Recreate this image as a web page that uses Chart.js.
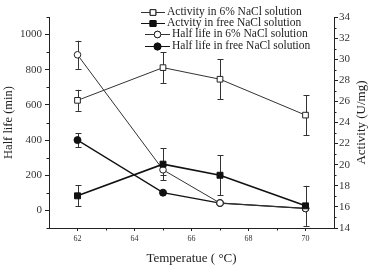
<!DOCTYPE html>
<html>
<head>
<meta charset="utf-8">
<script src="https://cdn.jsdelivr.net/npm/chart.js@4.4.1/dist/chart.umd.min.js"></script>
<style>
html,body{margin:0;padding:0;background:#fff;}
#wrap{width:376px;height:274px;}
</style>
</head>
<body>
<div id="wrap"><canvas id="c" width="376" height="274"></canvas></div>
<script>
const temps = [62, 65, 67, 70];
const activity6 = [26.1, 29.2, 28.1, 24.7];
const activity6Err = [1.0, 1.45, 1.9, 1.9];
const activityFree = [17.05, 20.05, 19.0, 16.1];
const activityFreeErr = [1.0, 1.5, 1.9, 1.9];
const halfLife6 = [885, 231, 42, 11];
const halfLife6Err = [80, 30, 0, 0];
const halfLifeFree = [400, 101, 42, 12];
const halfLifeFreeErr = [40, 0, 0, 0];

const xTickLabels = [62, 64, 66, 68, 70];
const xMinorTicks = [63, 65, 67, 69];
const leftTickLabels = [0, 200, 400, 600, 800, 1000];
const leftMinorTicks = [-100, 100, 300, 500, 700, 900, 1100];
const rightTickLabels = [14, 16, 18, 20, 22, 24, 26, 28, 30, 32, 34];
const rightMinorTicks = [15, 17, 19, 21, 23, 25, 27, 29, 31, 33];

const labels = ['Activity in 6% NaCl solution', 'Actvity in free NaCl solution',
                'Half life in 6% NaCl solution', 'Half life in free NaCl solution'];

const FONT = "'Liberation Serif', 'Times New Roman', serif";
const INK = '#222';

function pts(ys){ return temps.map((t,i)=>({x:t,y:ys[i]})); }

const datasets = [
  {label: labels[0], data: pts(activity6), err: activity6Err, yAxisID: 'y2',
   borderColor: '#333', borderWidth: 1, pointStyle: 'rect', pointRadius: 4,
   pointBackgroundColor: '#fff', pointBorderColor: '#222', pointBorderWidth: 1},
  {label: labels[1], data: pts(activityFree), err: activityFreeErr, yAxisID: 'y2',
   borderColor: '#111', borderWidth: 1.6, pointStyle: 'rect', pointRadius: 4.2,
   pointBackgroundColor: '#111', pointBorderColor: '#111', pointBorderWidth: 1},
  {label: labels[2], data: pts(halfLife6), err: halfLife6Err, yAxisID: 'y',
   borderColor: '#333', borderWidth: 1, pointStyle: 'circle', pointRadius: 3.3,
   pointBackgroundColor: '#fff', pointBorderColor: '#222', pointBorderWidth: 1},
  {label: labels[3], data: pts(halfLifeFree), err: halfLifeFreeErr, yAxisID: 'y',
   borderColor: '#111', borderWidth: 1.3, pointStyle: 'circle', pointRadius: 3.5,
   pointBackgroundColor: '#111', pointBorderColor: '#111', pointBorderWidth: 1}
];

const errorBars = {
  id: 'errorBars',
  beforeDatasetsDraw(chart){
    const ctx = chart.ctx;
    const xs = chart.scales.x;
    ctx.save();
    ctx.strokeStyle = '#333';
    ctx.lineWidth = 1;
    chart.data.datasets.forEach(ds=>{
      const ys = chart.scales[ds.yAxisID];
      ds.data.forEach((p,i)=>{
        const e = ds.err[i];
        if(!e) return;
        const x = Math.round(xs.getPixelForValue(p.x)) + 0.5;
        const y1 = ys.getPixelForValue(p.y + e);
        const y2 = ys.getPixelForValue(p.y - e);
        ctx.beginPath();
        ctx.moveTo(x, y1); ctx.lineTo(x, y2);
        ctx.moveTo(x-3, Math.round(y1)+0.5); ctx.lineTo(x+3, Math.round(y1)+0.5);
        ctx.moveTo(x-3, Math.round(y2)+0.5); ctx.lineTo(x+3, Math.round(y2)+0.5);
        ctx.stroke();
      });
    });
    ctx.restore();
  }
};

const extras = {
  id: 'extras',
  afterDraw(chart){
    const ctx = chart.ctx;
    const a = chart.chartArea;
    const xs = chart.scales.x, yl = chart.scales.y, yr = chart.scales.y2;
    ctx.save();
    ctx.strokeStyle = INK;
    ctx.lineWidth = 1;
    ctx.beginPath();
    leftMinorTicks.forEach(v=>{const y=Math.round(yl.getPixelForValue(v))+0.5; ctx.moveTo(a.left-2.5,y); ctx.lineTo(a.left,y);});
    rightMinorTicks.forEach(v=>{const y=Math.round(yr.getPixelForValue(v))+0.5; ctx.moveTo(a.right,y); ctx.lineTo(a.right+2.5,y);});
    xMinorTicks.forEach(v=>{const x=Math.round(xs.getPixelForValue(v))+0.5; ctx.moveTo(x,a.bottom); ctx.lineTo(x,a.bottom+2.5);});
    ctx.stroke();

    // right axis title (reads bottom to top)
    ctx.fillStyle = INK;
    ctx.font = '13px ' + FONT;
    ctx.textAlign = 'center';
    ctx.textBaseline = 'middle';
    ctx.translate(362, (a.top + a.bottom)/2);
    ctx.rotate(-Math.PI/2);
    ctx.fillText('Activity (U/mg)', 0, 0);
    ctx.restore();

    // legend
    ctx.save();
    const rows = [
      {y: 11.5, x0: 141, x1: 165, tx: 167},
      {y: 23, x0: 141, x1: 165, tx: 167},
      {y: 34, x0: 145, x1: 170, tx: 172},
      {y: 45.5, x0: 145, x1: 170, tx: 172}
    ];
    chart.data.datasets.forEach((ds,i)=>{
      const r = rows[i];
      ctx.strokeStyle = ds.borderColor;
      ctx.lineWidth = 1;
      ctx.beginPath();
      ctx.moveTo(r.x0, Math.round(r.y)+0.5); ctx.lineTo(r.x1, Math.round(r.y)+0.5);
      ctx.stroke();
      const cx = (r.x0 + r.x1)/2;
      Chart.helpers.drawPoint(ctx, {pointStyle: ds.pointStyle, radius: ds.pointRadius, borderWidth: 1},
        cx, Math.round(r.y)+0.5);
      ctx.fillStyle = ds.pointBackgroundColor;
      ctx.strokeStyle = ds.pointBorderColor;
      ctx.fill(); ctx.stroke();
      ctx.fillStyle = INK;
      ctx.font = '11.5px ' + FONT;
      ctx.textAlign = 'left';
      ctx.textBaseline = 'middle';
      ctx.fillText(ds.label, r.tx, r.y);
    });
    ctx.restore();
  }
};

const axisCommon = {
  grid: {drawOnChartArea: false, drawTicks: true, tickLength: 4, color: INK, tickColor: INK},
  border: {display: true, color: INK, width: 1}
};

new Chart(document.getElementById('c'), {
  type: 'line',
  data: {datasets},
  options: {
    responsive: false,
    animation: false,
    layout: {padding: {top: 17, left: 0, right: 0, bottom: 0}},
    plugins: {legend: {display: false}, tooltip: {enabled: false}},
    elements: {line: {tension: 0}},
    scales: {
      x: {
        type: 'linear', position: 'bottom', min: 61, max: 71,
        ...axisCommon,
        grid: {...axisCommon.grid, tickLength: 3},
        afterBuildTicks(s){ s.ticks = xTickLabels.map(v=>({value:v})); },
        afterFit(s){ s.height = 46; },
        ticks: {font: {family: FONT, size: 8}, color: '#333', padding: 3, maxRotation: 0,
                callback: v => String(v)},
        title: {display: true, text: 'Temperatue ( \u00B0C)', font: {family: FONT, size: 13},
                color: INK, padding: {top: 0, bottom: 8}}
      },
      y: {
        type: 'linear', position: 'left', min: -100, max: 1100,
        ...axisCommon,
        afterBuildTicks(s){ s.ticks = leftTickLabels.map(v=>({value:v})); },
        afterFit(s){ s.width = 49; },
        ticks: {font: {family: FONT, size: 11}, color: '#333', padding: 3, callback: v => String(v)},
        title: {display: true, text: 'Half life (min)', font: {family: FONT, size: 12.5},
                color: INK, padding: {top: 1, bottom: 0}}
      },
      y2: {
        type: 'linear', position: 'right', min: 14, max: 34,
        ...axisCommon,
        afterBuildTicks(s){ s.ticks = rightTickLabels.map(v=>({value:v})); },
        afterFit(s){ s.width = 42; },
        ticks: {font: {family: FONT, size: 11}, color: '#333', padding: 1, callback: v => String(v)},
        title: {display: false}
      }
    }
  },
  plugins: [errorBars, extras]
});
</script>
</body>
</html>
